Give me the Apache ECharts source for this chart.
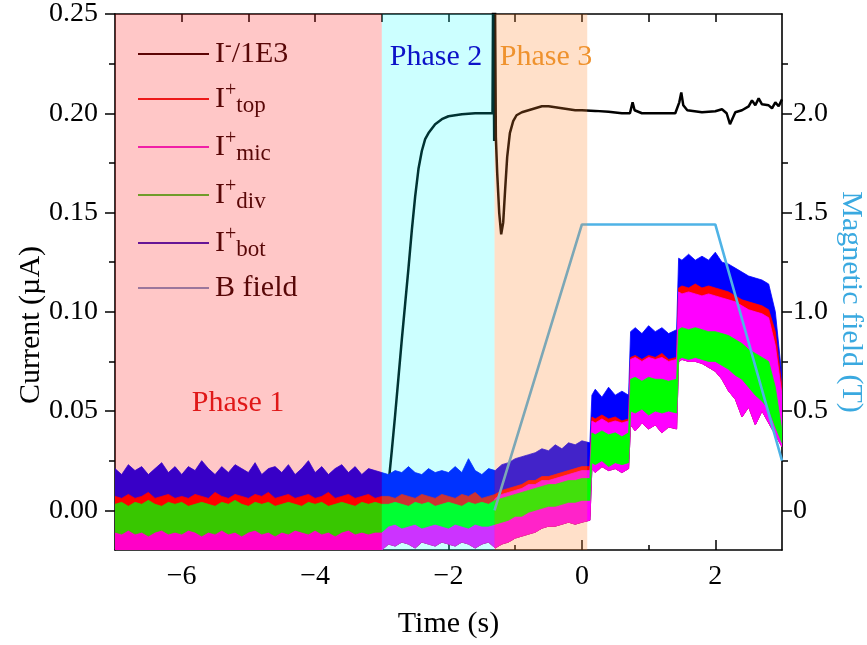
<!DOCTYPE html>
<html><head><meta charset="utf-8">
<script src="https://cdn.jsdelivr.net/npm/echarts@6/dist/echarts.min.js"></script>
<style>html,body{margin:0;padding:0;background:#fff}#c{width:867px;height:645px}</style>
</head><body><div id="c"></div>
<script>
// ---------- data ----------
const T = [-7.0,-6.9,-6.8,-6.7,-6.6,-6.5,-6.4,-6.3,-6.2,-6.1,
-6.0,-5.9,-5.8,-5.7,-5.6,-5.5,-5.4,-5.3,-5.2,-5.1,
-5.0,-4.9,-4.8,-4.7,-4.6,-4.5,-4.4,-4.3,-4.2,-4.1,
-4.0,-3.9,-3.8,-3.7,-3.6,-3.5,-3.4,-3.3,-3.2,-3.1,
-3.0,-2.9,-2.8,-2.7,-2.6,-2.5,-2.4,-2.3,-2.2,-2.1,
-2.0,-1.9,-1.8,-1.7,-1.6,-1.5,-1.4,-1.3,-1.2,-1.1,
-1.0,-0.9,-0.8,-0.7,-0.6,-0.5,-0.4,-0.3,-0.2,-0.1,
0.0,0.12,0.15,0.2,0.3,0.4,0.5,0.6,0.7,0.73,
0.8,0.9,1.0,1.1,1.2,1.3,1.42,1.45,1.5,1.6,
1.7,1.8,1.9,2.0,2.1,2.2,2.3,2.4,2.5,2.6,
2.7,2.8,2.9,3.0];

// I+bot upper envelope
const botHi = [0.021,0.018,0.023,0.020,0.022,0.018,0.021,0.024,0.019,0.022,
0.018,0.022,0.020,0.025,0.021,0.018,0.022,0.019,0.023,0.021,
0.019,0.024,0.018,0.021,0.022,0.019,0.023,0.018,0.021,0.025,
0.019,0.022,0.018,0.021,0.023,0.019,0.022,0.018,0.021,0.020,
0.019,0.018,0.020,0.019,0.022,0.019,0.018,0.021,0.019,0.020,
0.019,0.022,0.019,0.026,0.020,0.018,0.021,0.020,0.023,0.024,
0.026,0.027,0.028,0.029,0.031,0.030,0.033,0.031,0.034,0.033,
0.035,0.034,0.058,0.061,0.057,0.062,0.058,0.060,0.058,0.090,
0.092,0.089,0.093,0.090,0.092,0.089,0.091,0.127,0.126,0.129,
0.126,0.128,0.126,0.130,0.125,0.124,0.122,0.120,0.118,0.117,
0.116,0.114,0.100,0.067];

// I+top upper envelope
const topHi = [0.007,0.006,0.008,0.006,0.007,0.009,0.006,0.007,0.008,0.006,
0.007,0.006,0.008,0.007,0.006,0.009,0.007,0.006,0.008,0.007,
0.006,0.008,0.007,0.009,0.006,0.007,0.008,0.006,0.007,0.008,
0.006,0.007,0.009,0.006,0.007,0.008,0.006,0.007,0.008,0.006,
0.007,0.007,0.006,0.008,0.007,0.006,0.008,0.007,0.006,0.008,
0.007,0.006,0.008,0.007,0.009,0.006,0.007,0.008,0.010,0.011,
0.012,0.013,0.015,0.015,0.017,0.017,0.018,0.019,0.020,0.021,
0.022,0.022,0.047,0.046,0.048,0.046,0.047,0.045,0.046,0.077,
0.078,0.076,0.078,0.077,0.079,0.076,0.077,0.112,0.113,0.112,
0.114,0.112,0.113,0.112,0.111,0.110,0.108,0.106,0.105,0.104,
0.103,0.101,0.090,0.062];

// I+mic envelope
const micHi = [-0.002,-0.002,-0.002,-0.002,-0.002,-0.002,-0.002,-0.002,-0.002,-0.002,
-0.002,-0.002,-0.002,-0.002,-0.002,-0.002,-0.002,-0.002,-0.002,-0.002,
-0.002,-0.002,-0.002,-0.002,-0.002,-0.002,-0.002,-0.002,-0.002,-0.002,
-0.002,-0.002,-0.002,-0.002,-0.002,-0.002,-0.002,-0.002,-0.002,-0.002,
-0.002,-0.002,-0.002,-0.002,-0.002,-0.002,-0.002,-0.002,-0.002,-0.002,
-0.002,-0.002,-0.002,-0.002,-0.002,-0.002,-0.002,0.006,0.008,0.009,
0.010,0.011,0.013,0.013,0.015,0.015,0.016,0.017,0.018,0.019,
0.020,0.020,0.045,0.044,0.046,0.044,0.045,0.044,0.045,0.076,
0.077,0.075,0.077,0.076,0.077,0.075,0.076,0.110,0.109,0.110,
0.109,0.108,0.109,0.108,0.107,0.106,0.105,0.103,0.101,0.100,
0.099,0.097,0.083,0.058];
const micLo = [-0.020,-0.020,-0.020,-0.020,-0.020,-0.020,-0.020,-0.020,-0.020,-0.020,
-0.020,-0.020,-0.020,-0.020,-0.020,-0.020,-0.020,-0.020,-0.020,-0.020,
-0.020,-0.020,-0.020,-0.020,-0.020,-0.020,-0.020,-0.020,-0.020,-0.020,
-0.020,-0.020,-0.020,-0.020,-0.020,-0.020,-0.020,-0.020,-0.020,-0.020,
-0.020,-0.017,-0.018,-0.016,-0.017,-0.019,-0.016,-0.017,-0.018,-0.016,
-0.017,-0.018,-0.016,-0.017,-0.019,-0.017,-0.016,-0.019,-0.017,-0.016,
-0.014,-0.013,-0.012,-0.011,-0.009,-0.008,-0.008,-0.007,-0.006,-0.007,
-0.006,-0.005,0.021,0.019,0.022,0.020,0.021,0.019,0.021,0.043,
0.040,0.044,0.041,0.043,0.039,0.042,0.041,0.075,0.076,0.075,
0.075,0.074,0.072,0.070,0.066,0.060,0.056,0.047,0.052,0.043,
0.050,0.044,0.038,0.032];

// I+div envelope
const divHi = [0.003,0.004,0.002,0.004,0.003,0.005,0.003,0.002,0.004,0.003,
0.004,0.002,0.003,0.004,0.003,0.002,0.004,0.003,0.005,0.003,
0.002,0.004,0.003,0.004,0.002,0.003,0.004,0.003,0.002,0.004,
0.003,0.004,0.002,0.003,0.004,0.003,0.002,0.004,0.003,0.004,
0.003,0.003,0.004,0.003,0.002,0.004,0.003,0.004,0.002,0.003,
0.004,0.003,0.002,0.004,0.003,0.004,0.003,0.005,0.006,0.007,
0.008,0.009,0.010,0.011,0.012,0.013,0.013,0.014,0.015,0.015,
0.016,0.016,0.039,0.038,0.040,0.038,0.039,0.037,0.039,0.066,
0.067,0.065,0.067,0.066,0.066,0.065,0.066,0.091,0.092,0.091,
0.092,0.091,0.090,0.090,0.089,0.088,0.086,0.084,0.081,0.079,
0.077,0.075,0.062,0.040];
const divLo = [-0.011,-0.012,-0.010,-0.012,-0.011,-0.013,-0.011,-0.010,-0.012,-0.011,
-0.012,-0.010,-0.011,-0.013,-0.011,-0.012,-0.010,-0.012,-0.011,-0.013,
-0.011,-0.010,-0.012,-0.011,-0.013,-0.011,-0.012,-0.010,-0.011,-0.012,
-0.010,-0.012,-0.011,-0.013,-0.011,-0.010,-0.012,-0.011,-0.012,-0.011,
-0.011,-0.008,-0.007,-0.009,-0.008,-0.007,-0.009,-0.008,-0.007,-0.008,
-0.009,-0.007,-0.008,-0.009,-0.007,-0.008,-0.008,-0.007,-0.006,-0.005,
-0.003,-0.003,-0.001,0.000,0.001,0.002,0.002,0.003,0.004,0.004,
0.005,0.005,0.024,0.023,0.025,0.022,0.024,0.023,0.024,0.050,
0.049,0.051,0.048,0.050,0.049,0.050,0.049,0.076,0.077,0.076,
0.077,0.076,0.075,0.075,0.073,0.071,0.068,0.066,0.062,0.058,
0.055,0.051,0.042,0.034];

// I-/1E3
const negT = [-7.0,-2.95,-2.9,-2.85,-2.8,-2.75,-2.7,-2.65,-2.6,-2.55,-2.5,-2.45,-2.4,-2.35,-2.3,-2.2,-2.1,-2.0,-1.8,-1.6,
-1.34,-1.33,-1.315,-1.305,-1.29,-1.27,-1.24,-1.21,-1.18,-1.15,-1.12,-1.08,-1.03,-0.98,-0.9,-0.8,-0.7,-0.6,-0.5,-0.4,
-0.3,-0.2,-0.1,0.0,0.2,0.4,0.6,0.72,0.76,0.79,0.9,1.2,1.4,1.46,1.49,1.52,1.58,1.8,2.0,2.1,
2.17,2.22,2.26,2.3,2.4,2.5,2.55,2.6,2.65,2.7,2.8,2.85,2.9,2.95,3.0];
const negV = [0.003,0.003,0.013,0.030,0.048,0.067,0.086,0.104,0.122,0.141,0.158,0.172,0.181,0.187,0.190,0.1945,0.197,0.1985,0.1995,0.200,
0.200,0.270,0.186,0.270,0.188,0.170,0.150,0.139,0.145,0.162,0.178,0.190,0.196,0.199,0.2005,0.2015,0.2025,0.2035,0.2035,0.203,
0.2025,0.202,0.2015,0.2015,0.2012,0.2008,0.200,0.200,0.2055,0.2015,0.200,0.200,0.200,0.2055,0.2105,0.204,0.2015,0.2005,0.201,0.202,
0.200,0.1945,0.1975,0.2005,0.2015,0.2035,0.2065,0.204,0.2075,0.2045,0.204,0.2025,0.2055,0.2035,0.207];

// B field (T)
const bT = [-1.31, 0.0, 2.0, 3.0];
const bV = [0, 1.44, 1.44, 0.25];

// phases
const phaseNames = ['Phase 1', 'Phase 2', 'Phase 3'];
const phaseStart = [-7.0, -3.0, -1.31];
const phaseEnd = [-3.0, -1.31, 0.08];

// ticks
const xTicks = [-6, -4, -2, 0, 2];
const xMinor = [-5, -3, -1, 1];
const yTicks = [0, 0.05, 0.10, 0.15, 0.20, 0.25];
const yMinor = [0.025, 0.075, 0.125, 0.175, 0.225];
const bTicks = [0, 0.5, 1.0, 1.5, 2.0];
const bMinor = [0.25, 0.75, 1.25, 1.75, 2.25];

// ---------- styles ----------
const FONT = '"Liberation Serif", "Times New Roman", serif';
const phaseFill = ['rgba(255,0,0,0.22)', 'rgba(0,255,255,0.2)', 'rgba(255,136,48,0.26)'];
const phaseText = ['#e01818', '#0c12c8', '#ef922e'];
const C = { neg: '#000000', top: '#ff0000', mic: '#ff00ff', div: '#00ff00', bot: '#0000ff', B: '#4fb3e6' };

function band(name, color, hi, lo, z) {
  return {
    type: 'custom', name: name, z: z, silent: true, clip: true,
    xAxisIndex: 0, yAxisIndex: 0,
    itemStyle: { color: color },
    data: [[0, 0]],
    renderItem: function (params, api) {
      const pts = [];
      for (let i = 0; i < T.length; i++) pts.push(api.coord([T[i], hi[i]]));
      for (let i = T.length - 1; i >= 0; i--) pts.push(api.coord([T[i], lo[i]]));
      return { type: 'polygon', shape: { points: pts }, style: { fill: color, stroke: color, lineWidth: 0.8 } };
    }
  };
}

const minus = v => (v < 0 ? '\u2212' + Math.abs(v) : String(v));
const axisLineStyle = { color: '#000', width: 1.6 };

const legendLabels = {
  neg: '{n|I}{sup|-}{n|/1E3}',
  top: '{n|I}{sup|+}{sub|top}',
  mic: '{n|I}{sup|+}{sub|mic}',
  div: '{n|I}{sup|+}{sub|div}',
  bot: '{n|I}{sup|+}{sub|bot}',
  B: '{n|B field}'
};
const legendTxt = '#2a0909';

const chart = echarts.init(document.getElementById('c'));
chart.setOption({
  animation: false,
  backgroundColor: '#ffffff',
  textStyle: { fontFamily: FONT },
  grid: { left: 115, right: 85, top: 14, bottom: 95, containLabel: false, outerBoundsMode: 'none' },
  xAxis: [
    { type: 'value', min: -7, max: 3, position: 'bottom',
      axisLine: { show: true, onZero: false, lineStyle: axisLineStyle },
      axisTick: { show: true, inside: true, length: 10, customValues: xTicks, lineStyle: { color: '#000', width: 1.5 } },
      axisLabel: { customValues: xTicks, formatter: minus, fontSize: 28, color: '#000', margin: 13, fontFamily: FONT },
      splitLine: { show: false },
      name: 'Time (s)', nameLocation: 'middle', nameGap: 59,
      nameTextStyle: { fontSize: 30, color: '#000', fontFamily: FONT } },
    { type: 'value', min: -7, max: 3, position: 'bottom',
      axisLine: { show: false, onZero: false },
      axisTick: { show: true, inside: true, length: 5, customValues: xMinor, lineStyle: { color: '#000', width: 1.5 } },
      axisLabel: { show: false }, splitLine: { show: false } },
    { type: 'value', min: -7, max: 3, position: 'top',
      axisLine: { show: true, onZero: false, lineStyle: axisLineStyle },
      axisTick: { show: true, inside: true, length: 8, customValues: xTicks.concat(xMinor), lineStyle: { color: '#000', width: 1.5 } },
      axisLabel: { show: false }, splitLine: { show: false } }
  ],
  yAxis: [
    { type: 'value', min: -0.02, max: 0.25, position: 'left',
      axisLine: { show: true, onZero: false, lineStyle: axisLineStyle },
      axisTick: { show: true, inside: false, length: 10, customValues: yTicks, lineStyle: { color: '#000', width: 1.5 } },
      axisLabel: { customValues: yTicks, formatter: v => v.toFixed(2), fontSize: 28, color: '#000', margin: 17, fontFamily: FONT },
      splitLine: { show: false } },
    { type: 'value', min: -0.02, max: 0.25, position: 'left',
      axisLine: { show: false, onZero: false },
      axisTick: { show: true, inside: false, length: 6, customValues: yMinor, lineStyle: { color: '#000', width: 1.5 } },
      axisLabel: { show: false }, splitLine: { show: false } },
    { type: 'value', min: -0.2, max: 2.5, position: 'right',
      axisLine: { show: true, onZero: false, lineStyle: axisLineStyle },
      axisTick: { show: true, inside: false, length: 10, customValues: bTicks, lineStyle: { color: '#000', width: 1.5 } },
      axisLabel: { customValues: bTicks, formatter: v => (v === 0 ? '0' : v.toFixed(1)), fontSize: 28, color: '#000', margin: 11, fontFamily: FONT },
      splitLine: { show: false } },
    { type: 'value', min: -0.2, max: 2.5, position: 'right',
      axisLine: { show: false, onZero: false },
      axisTick: { show: true, inside: false, length: 6, customValues: bMinor, lineStyle: { color: '#000', width: 1.5 } },
      axisLabel: { show: false }, splitLine: { show: false } }
  ],
  legend: {
    orient: 'vertical', left: 133, top: 31, itemGap: 12,
    icon: 'rect', itemWidth: 71, itemHeight: 2.2,
    selectedMode: false,
    formatter: name => legendLabels[name],
    textStyle: {
      color: legendTxt, fontFamily: FONT, fontSize: 30, padding: [0, 0, 0, 1],
      rich: {
        n: { fontSize: 30, lineHeight: 36, fontFamily: FONT, color: legendTxt },
        sup: { fontSize: 20, lineHeight: 20, verticalAlign: 'top', fontFamily: FONT, color: legendTxt },
        sub: { fontSize: 23, lineHeight: 23, verticalAlign: 'bottom', fontFamily: FONT, color: legendTxt }
      }
    },
    data: [
      { name: 'neg', itemStyle: { color: '#300606' } },
      { name: 'top', itemStyle: { color: '#e82020' } },
      { name: 'mic', itemStyle: { color: '#ee28d6' } },
      { name: 'div', itemStyle: { color: '#48c838' } },
      { name: 'bot', itemStyle: { color: '#3a1cc0' } },
      { name: 'B', itemStyle: { color: '#7f98c8' } }
    ]
  },
  series: [
    { type: 'line', name: 'neg', z: 1, xAxisIndex: 0, yAxisIndex: 0, symbol: 'none', clip: true,
      lineStyle: { color: C.neg, width: 2.5 }, itemStyle: { color: C.neg },
      data: negT.map((t, i) => [t, negV[i]]) },
    band('bot', C.bot, botHi, micLo, 2),
    band('top', C.top, topHi, micLo, 3),
    band('mic', C.mic, micHi, micLo, 4),
    band('div', C.div, divHi, divLo, 5),
    { type: 'line', name: 'B', z: 8, xAxisIndex: 0, yAxisIndex: 2, symbol: 'none', clip: true,
      lineStyle: { color: C.B, width: 2.6 }, itemStyle: { color: C.B },
      data: bT.map((t, i) => [t, bV[i]]) },
    { type: 'custom', name: 'phases', z: 10, silent: true, clip: true,
      xAxisIndex: 0, yAxisIndex: 0,
      data: phaseStart.map((s, i) => [s, phaseEnd[i], i]),
      renderItem: function (params, api) {
        const cs = params.coordSys;
        const x0 = api.coord([api.value(0), 0])[0];
        const x1 = api.coord([api.value(1), 0])[0];
        return { type: 'rect', shape: { x: x0, y: cs.y, width: x1 - x0, height: cs.height },
                 style: { fill: phaseFill[api.value(2)] } };
      } }
  ],
  graphic: [
    { type: 'text', x: 31, y: 325, rotation: Math.PI / 2, z: 100,
      style: { text: 'Current (\u00b5A)', font: '30px ' + FONT, fill: '#000', textAlign: 'center', textVerticalAlign: 'middle' } },
    { type: 'text', x: 851, y: 302, rotation: -Math.PI / 2, z: 100,
      style: { text: 'Magnetic field (T)', font: '30px ' + FONT, fill: '#3aa9e0', textAlign: 'center', textVerticalAlign: 'middle' } },
    { type: 'text', x: 238, y: 403, z: 100,
      style: { text: phaseNames[0], font: '30px ' + FONT, fill: phaseText[0], textAlign: 'center', textVerticalAlign: 'middle' } },
    { type: 'text', x: 436, y: 57, z: 100,
      style: { text: phaseNames[1], font: '30px ' + FONT, fill: phaseText[1], textAlign: 'center', textVerticalAlign: 'middle' } },
    { type: 'text', x: 546, y: 57, z: 100,
      style: { text: phaseNames[2], font: '30px ' + FONT, fill: phaseText[2], textAlign: 'center', textVerticalAlign: 'middle' } }
  ]
});
</script>
</body></html>
